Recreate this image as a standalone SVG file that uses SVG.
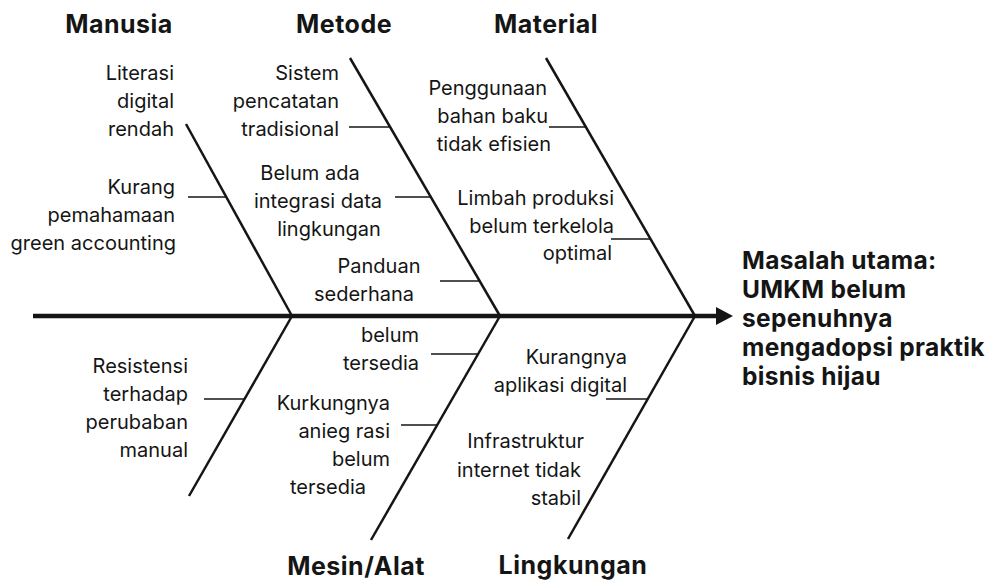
<svg xmlns="http://www.w3.org/2000/svg" width="994" height="583" viewBox="0 0 994 583">
<style>
text{font-family:Inter,"Noto Sans","Liberation Sans",sans-serif;fill:#151515}
.h{font-size:25px;font-weight:700;text-anchor:middle;letter-spacing:0.5px}
.t{font-size:20px;text-anchor:end}
.m{font-size:20px;text-anchor:middle}
.head{font-size:24.5px;font-weight:700;letter-spacing:0.3px}
.spine{stroke:#151515;stroke-width:4.5;fill:none}
.bone{stroke:#151515;stroke-width:2.5;fill:none}
.rib{stroke:#151515;stroke-width:1.5;fill:none}
</style>
<rect width="994" height="583" fill="#fff"/>
<g id="connectors">
<line class="spine" x1="33" y1="316" x2="720" y2="316"/>
<polygon points="716,307 733,316 716,325" fill="#151515"/>
<line class="bone" x1="186" y1="124" x2="292" y2="316"/>
<line class="bone" x1="350" y1="58" x2="500" y2="316"/>
<line class="bone" x1="546" y1="58" x2="695" y2="316"/>
<line class="bone" x1="292" y1="316" x2="189" y2="496"/>
<line class="bone" x1="500" y1="316" x2="371" y2="540"/>
<line class="bone" x1="695" y1="316" x2="568" y2="539"/>
<line class="rib" x1="188" y1="197" x2="226" y2="197"/>
<line class="rib" x1="349" y1="127" x2="390" y2="127"/>
<line class="rib" x1="395" y1="197" x2="431" y2="197"/>
<line class="rib" x1="440" y1="281" x2="480" y2="281"/>
<line class="rib" x1="549" y1="127" x2="586" y2="127"/>
<line class="rib" x1="611" y1="239" x2="651" y2="239"/>
<line class="rib" x1="204" y1="399" x2="245" y2="399"/>
<line class="rib" x1="431" y1="354" x2="478" y2="354"/>
<line class="rib" x1="401" y1="425" x2="437" y2="425"/>
<line class="rib" x1="606" y1="399" x2="648" y2="399"/>
</g>
<g id="manusia">
<text class="h" x="119" y="33">Manusia</text>
<text class="t" x="174" y="80">Literasi</text>
<text class="t" x="174" y="108">digital</text>
<text class="t" x="174" y="136">rendah</text>
<text class="t" x="175" y="194">Kurang</text>
<text class="t" x="175" y="222">pemahamaan</text>
<text class="t" x="176" y="250">green accounting</text>
<text class="t" x="188" y="373">Resistensi</text>
<text class="t" x="188" y="401">terhadap</text>
<text class="t" x="188" y="429">perubaban</text>
<text class="t" x="188" y="457">manual</text>
</g>
<g id="metode">
<text class="h" x="344" y="33">Metode</text>
<text class="t" x="339" y="80">Sistem</text>
<text class="t" x="339" y="108">pencatatan</text>
<text class="t" x="339" y="136">tradisional</text>
<text class="m" x="310" y="180">Belum ada</text>
<text class="m" x="318" y="208">integrasi data</text>
<text class="m" x="329" y="236">lingkungan</text>
<text class="m" x="379" y="273">Panduan</text>
<text class="m" x="364" y="301">sederhana</text>
</g>
<g id="material">
<text class="h" x="546" y="33">Material</text>
<text class="t" x="547" y="95">Penggunaan</text>
<text class="t" x="548" y="123">bahan baku</text>
<text class="t" x="551" y="151">tidak efisien</text>
<text class="t" x="614" y="205">Limbah produksi</text>
<text class="t" x="614" y="233">belum terkelola</text>
<text class="t" x="612" y="260">optimal</text>
</g>
<g id="mesin">
<text class="h" x="356" y="575">Mesin/Alat</text>
<text class="t" x="419" y="342">belum</text>
<text class="t" x="419" y="370">tersedia</text>
<text class="t" x="390" y="410">Kurkungnya</text>
<text class="t" x="390" y="438">anieg rasi</text>
<text class="t" x="390" y="466">belum</text>
<text class="m" x="328" y="494">tersedia</text>
</g>
<g id="lingkungan">
<text class="h" x="573" y="574">Lingkungan</text>
<text class="t" x="627" y="364">Kurangnya</text>
<text class="t" x="627" y="392">aplikasi digital</text>
<text class="t" x="584" y="448">Infrastruktur</text>
<text class="t" x="581" y="477">internet tidak</text>
<text class="t" x="581" y="505">stabil</text>
</g>
<g id="masalah">
<text class="head" x="742" y="269">Masalah utama:</text>
<text class="head" x="742" y="298">UMKM belum</text>
<text class="head" x="742" y="327">sepenuhnya</text>
<text class="head" x="742" y="356">mengadopsi praktik</text>
<text class="head" x="742" y="385">bisnis hijau</text>
</g>
</svg>
